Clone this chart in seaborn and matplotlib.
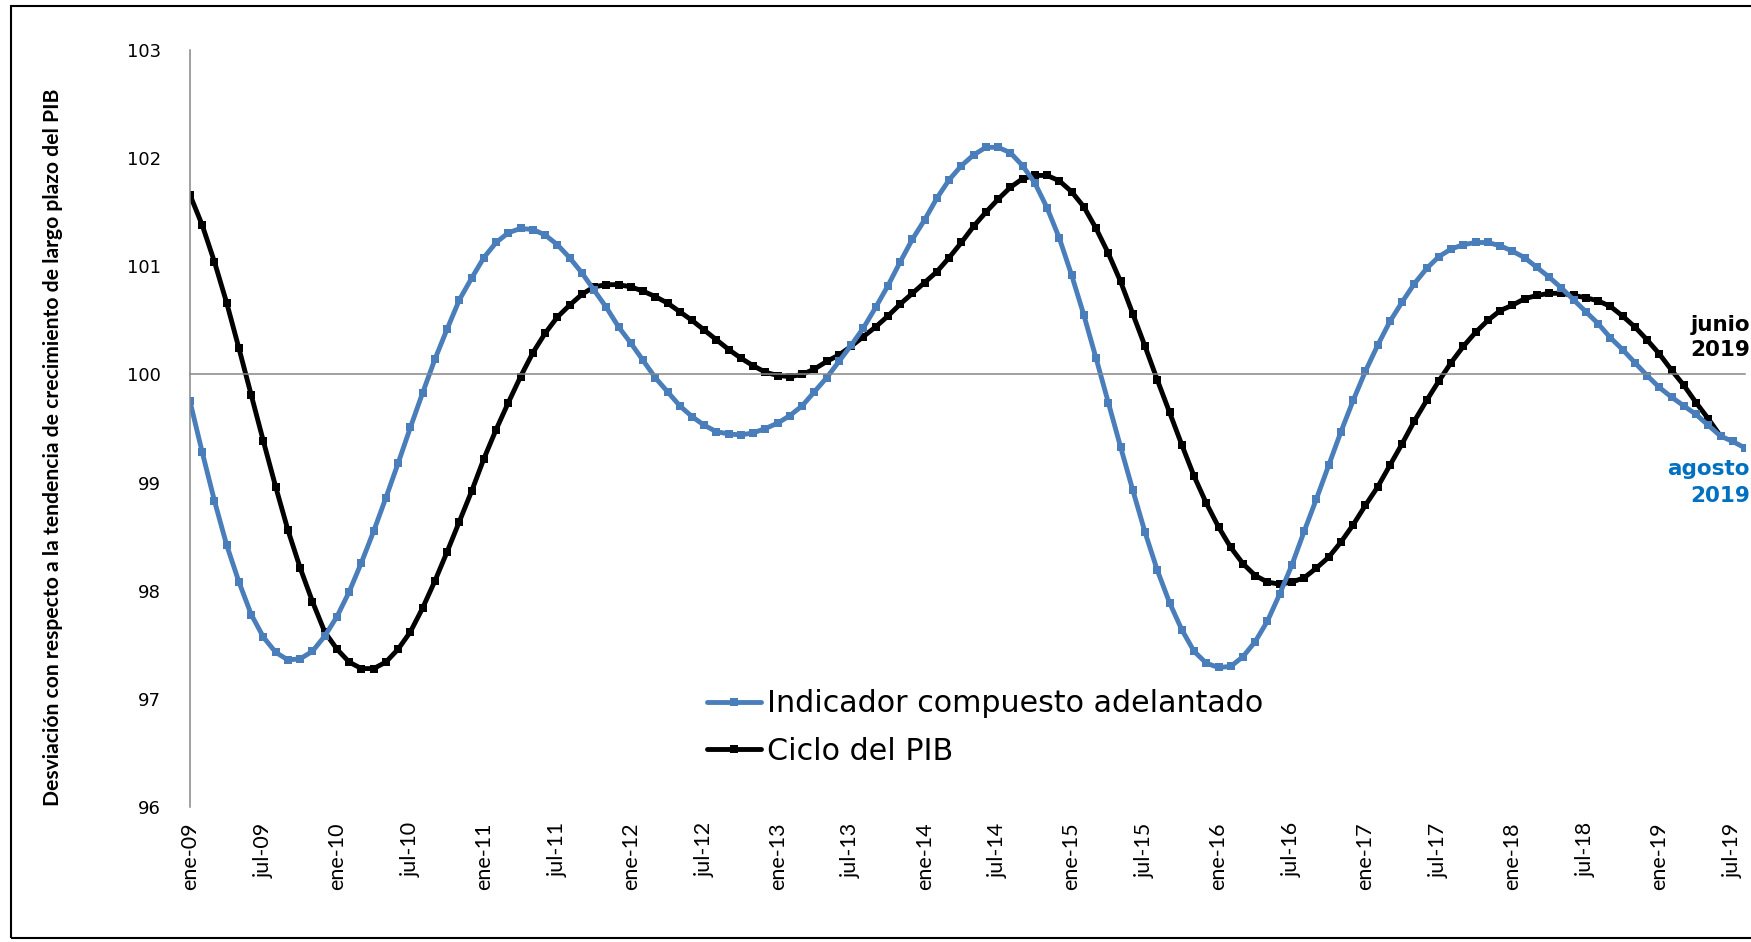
import numpy as np
import matplotlib
matplotlib.use("Agg")
import matplotlib.pyplot as plt
import matplotlib.transforms as mtransforms
from matplotlib.patches import Rectangle
from matplotlib import font_manager
import seaborn as sns

# ---------- 1. Data ----------
# monthly, ene-09 .. ago-19 (indicador) and ene-09 .. jun-19 (ciclo)
indicador = [
    99.75, 99.28, 98.83, 98.42, 98.08, 97.78, 97.57, 97.43, 97.36, 97.37, 97.44, 97.58,
    97.76, 97.99, 98.26, 98.55, 98.86, 99.18, 99.51, 99.83, 100.14, 100.42, 100.69, 100.89,
    101.08, 101.22, 101.31, 101.35, 101.34, 101.29, 101.20, 101.08, 100.94, 100.78, 100.62, 100.44,
    100.29, 100.13, 99.97, 99.84, 99.71, 99.61, 99.53, 99.47, 99.45, 99.44, 99.46, 99.50,
    99.55, 99.62, 99.71, 99.84, 99.97, 100.12, 100.27, 100.43, 100.62, 100.82, 101.04, 101.25,
    101.43, 101.63, 101.80, 101.93, 102.03, 102.10, 102.10, 102.05, 101.93, 101.77, 101.54, 101.26,
    100.92, 100.55, 100.15, 99.74, 99.33, 98.93, 98.54, 98.19, 97.89, 97.64, 97.44, 97.33,
    97.29, 97.30, 97.39, 97.53, 97.72, 97.97, 98.24, 98.55, 98.85, 99.16, 99.47, 99.76,
    100.03, 100.27, 100.49, 100.67, 100.84, 100.98, 101.09, 101.16, 101.20, 101.22, 101.22, 101.19,
    101.14, 101.08, 100.99, 100.90, 100.80, 100.69, 100.58, 100.47, 100.34, 100.23, 100.11, 99.99,
    99.88, 99.79, 99.71, 99.63, 99.53, 99.43, 99.38, 99.32,
]
ciclo = [
    101.66, 101.38, 101.04, 100.66, 100.24, 99.81, 99.38, 98.96, 98.56, 98.21, 97.90, 97.62,
    97.46, 97.34, 97.28, 97.28, 97.34, 97.46, 97.62, 97.84, 98.09, 98.36, 98.64, 98.92,
    99.22, 99.49, 99.74, 99.98, 100.20, 100.38, 100.53, 100.64, 100.74, 100.81, 100.83, 100.83,
    100.81, 100.77, 100.72, 100.66, 100.58, 100.50, 100.41, 100.32, 100.23, 100.15, 100.08, 100.02,
    99.99, 99.98, 100.00, 100.05, 100.12, 100.18, 100.26, 100.35, 100.44, 100.54, 100.65, 100.75,
    100.85, 100.95, 101.08, 101.22, 101.37, 101.50, 101.62, 101.73, 101.81, 101.84, 101.84, 101.79,
    101.69, 101.55, 101.35, 101.12, 100.86, 100.56, 100.26, 99.95, 99.65, 99.35, 99.06, 98.81,
    98.59, 98.40, 98.25, 98.14, 98.08, 98.06, 98.08, 98.12, 98.21, 98.31, 98.45, 98.61,
    98.79, 98.96, 99.16, 99.36, 99.57, 99.76, 99.94, 100.11, 100.26, 100.39, 100.50, 100.59,
    100.64, 100.70, 100.73, 100.75, 100.75, 100.73, 100.71, 100.68, 100.63, 100.54, 100.44, 100.32,
    100.19, 100.04, 99.90, 99.74, 99.59, 99.43,
]
tick_labels = [
    "ene-09", "jul-09", "ene-10", "jul-10", "ene-11", "jul-11", "ene-12", "jul-12",
    "ene-13", "jul-13", "ene-14", "jul-14", "ene-15", "jul-15", "ene-16", "jul-16",
    "ene-17", "jul-17", "ene-18", "jul-18", "ene-19", "jul-19",
]
y_ticks = [96, 97, 98, 99, 100, 101, 102, 103]
serie_names = ["Indicador compuesto adelantado", "Ciclo del PIB"]

# ---------- 2. Style ----------
sns.set_style("white")
names = {f.name for f in font_manager.fontManager.ttflist}
label_font = "Lato" if "Lato" in names else "DejaVu Sans"
plt.rcParams["font.family"] = ["DejaVu Sans"]
for key in ["text.color", "axes.labelcolor", "xtick.color", "ytick.color"]:
    plt.rcParams[key] = "black"

BLUE = "#4A7EBB"
GRAY = "#868686"

fig = plt.figure(figsize=(17.51, 9.42), dpi=100)
ax = fig.add_axes([190 / 1751, 1 - 807 / 942, 1555 / 1751, 757 / 942])

x_ind = np.arange(len(indicador))
x_cic = np.arange(len(ciclo))

sns.lineplot(x=x_cic, y=ciclo, ax=ax, color="black", linewidth=3.5,
             marker="s", markersize=6.3, markeredgewidth=0)
sns.lineplot(x=x_ind, y=indicador, ax=ax, color=BLUE, linewidth=3.5,
             marker="s", markersize=6.3, markeredgewidth=0)

ax.set_xlim(0, 127)
ax.set_ylim(96, 103)

# axes: left spine gray, horizontal axis crossing at 100
for side in ["top", "right"]:
    ax.spines[side].set_visible(False)
ax.spines["left"].set_color(GRAY)
ax.spines["left"].set_linewidth(1.1)
ax.spines["bottom"].set_position(("data", 100))
ax.spines["bottom"].set_color(GRAY)
ax.spines["bottom"].set_linewidth(1.1)

ax.set_xticks(range(0, 127, 6))
ax.tick_params(axis="x", length=7, width=1.1, color=GRAY, direction="out", labelbottom=False)
ax.set_yticks(y_ticks)
ax.tick_params(axis="y", length=7, width=1.1, color=GRAY, direction="out",
               labelsize=13, pad=14)

# x labels at the bottom of the plot
sec = ax.secondary_xaxis(0)
sec.set_xticks(range(0, 127, 6), labels=tick_labels)
sec.tick_params(length=0, pad=11, labelsize=15.5, labelrotation=90)
sec.spines["bottom"].set_visible(False)
for lab in sec.get_xticklabels():
    lab.set_family(label_font)

ax.set_ylabel("Desviación con respecto a la tendencia de crecimiento de largo plazo del PIB",
              family=label_font, fontweight="bold", fontsize=15.2)
ax.yaxis.set_label_coords(-0.0817, 0.475)

# legend
black_line, blue_line = ax.lines[0], ax.lines[1]
ax.legend(handles=[blue_line, black_line], labels=serie_names, loc="center left",
          bbox_to_anchor=(0.3966, 0.2277), bbox_transform=fig.transFigure,
          frameon=False, fontsize=21.7, handlelength=1.8, handletextpad=0.2,
          numpoints=1, borderaxespad=0, labelspacing=0.6)

# end-of-series notes
tr = mtransforms.blended_transform_factory(fig.transFigure, ax.transData)
ax.text(0.9995, 100.34, "junio\n2019", transform=tr, ha="right", va="center",
        fontsize=15.5, fontweight="bold", color="black", linespacing=1.35)
ax.text(0.9995, 99.0, "agosto\n2019", transform=tr, ha="right", va="center",
        fontsize=15.5, fontweight="bold", color="#0070C0", linespacing=1.45)

# outer frame
fig.add_artist(Rectangle((11 / 1751, 4 / 942), 1.1, 932 / 942, transform=fig.transFigure,
                         fill=False, edgecolor="black", linewidth=1.5, clip_on=False))

fig.savefig("out.png", dpi=100)
